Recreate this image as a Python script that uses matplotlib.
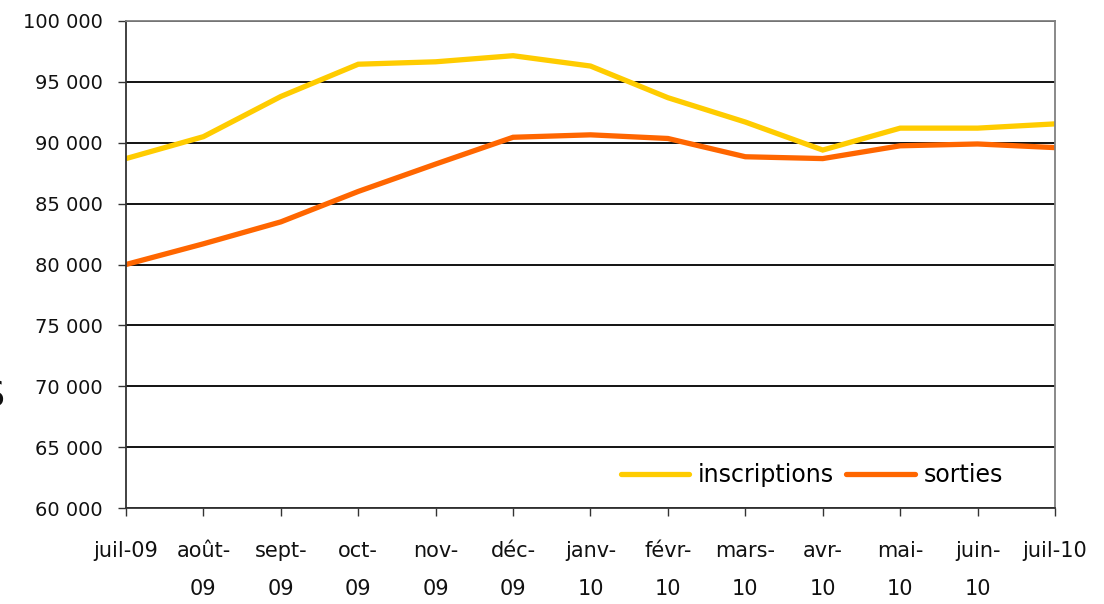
import matplotlib
matplotlib.use("Agg")
import matplotlib.pyplot as plt
from matplotlib.ticker import FuncFormatter

months = ["juil-09", "août-\n09", "sept-\n09", "oct-\n09", "nov-\n09", "déc-\n09",
          "janv-\n10", "févr-\n10", "mars-\n10", "avr-\n10", "mai-\n10", "juin-\n10", "juil-10"]
inscriptions = [88700, 90500, 93800, 96450, 96650, 97150, 96300, 93700, 91700, 89400, 91200, 91200, 91550]
sorties = [80000, 81700, 83500, 86000, 88250, 90450, 90650, 90350, 88850, 88700, 89750, 89900, 89600]
y_ticks = [60000, 65000, 70000, 75000, 80000, 85000, 90000, 95000, 100000]

plt.rcParams['font.family'] = ['DejaVu Sans']

fig = plt.figure(figsize=(11.04, 6.04), dpi=100)
ax = fig.add_axes([126/1104, 1 - 508/604, (1055-126)/1104, (508-21)/604])

x = list(range(len(months)))
ax.plot(x, inscriptions, color="#FFCC00", lw=3.8, label="inscriptions", solid_joinstyle="miter")
ax.plot(x, sorties, color="#FF6600", lw=3.8, label="sorties", solid_joinstyle="miter")

ax.set_xlim(0, len(months) - 1)
ax.set_ylim(60000, 100000)
ax.set_yticks(y_ticks)
ax.yaxis.set_major_formatter(FuncFormatter(lambda v, p: f"{int(v):,}".replace(",", " ")))
ax.set_xticks(x)
ax.set_xticklabels(months, linespacing=2.1)

ax.set_axisbelow(True)
ax.yaxis.grid(True, color="black", lw=1.3)

for s in ["top", "right"]:
    ax.spines[s].set_color("#808080")
    ax.spines[s].set_linewidth(1.3)
for s in ["left", "bottom"]:
    ax.spines[s].set_color("#333333")
    ax.spines[s].set_linewidth(1.3)

ax.tick_params(axis="y", length=6, width=1.0, color="#333333", pad=11, labelsize=14, labelcolor="#111111")
ax.tick_params(axis="x", length=6, width=1.0, color="#333333", pad=18, labelsize=15, labelcolor="#111111")

leg = ax.legend(loc="center", bbox_to_anchor=(0.738, 0.068), ncol=2, frameon=False,
                fontsize=17, handlelength=2.9, handletextpad=0.35, columnspacing=0.55,
                borderpad=0.2)
for h in leg.get_lines():
    h.set_linewidth(3.8)
    h.set_solid_capstyle("round")

fig.text(-0.0155, 1 - 395/604, "S", fontsize=25, va="center", ha="left", color="#111111")

fig.savefig("out.png", dpi=100, facecolor="white")
